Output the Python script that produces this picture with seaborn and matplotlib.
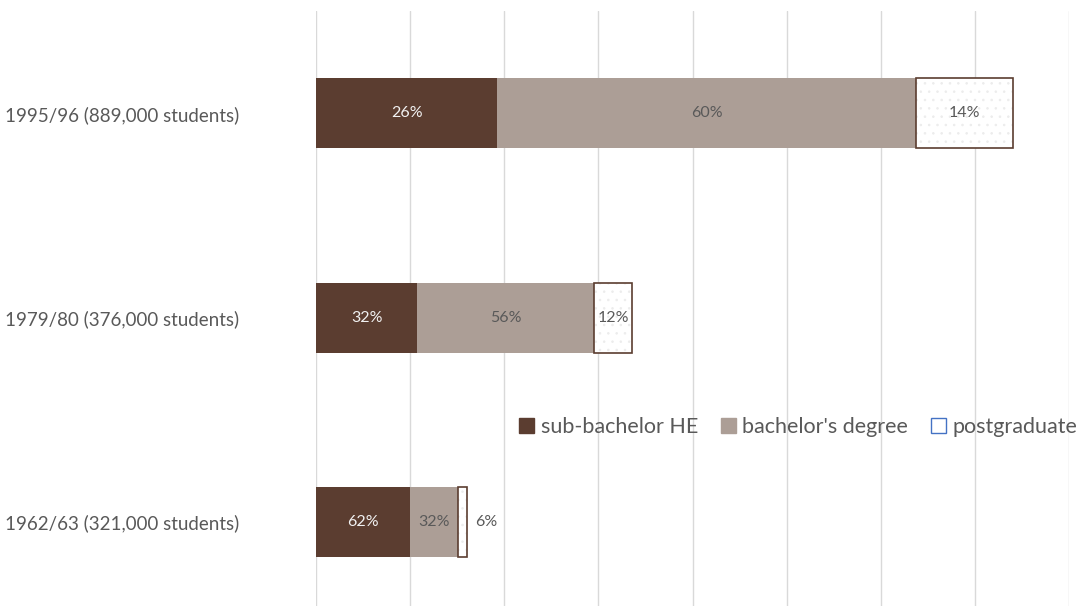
import matplotlib
matplotlib.use("Agg")
import matplotlib.pyplot as plt
from matplotlib.patches import Patch
import numpy as np
import pandas as pd
import seaborn as sns

# Student numbers by level of study
years = ["1995/96 (889,000 students)", "1979/80 (376,000 students)", "1962/63 (321,000 students)"]
sub_bachelor = [26, 32, 62]
bachelor = [60, 56, 32]
postgraduate = [14, 12, 6]
bar_totals = [741, 336, 160.5]   # overall bar length per year
series_names = ["sub-bachelor HE", "bachelor's degree", "postgraduate"]

DARK = "#5b3d30"
TAUPE = "#ac9e96"
TEXT = "#595959"
GRID = "#d9d9d9"

sns.set_theme(style="white")
plt.rcParams["font.family"] = ["Lato", "DejaVu Sans"]
plt.rcParams["hatch.linewidth"] = 0.6

df = pd.DataFrame({
    "year": years,
    "sub": sub_bachelor,
    "bach": bachelor,
    "post": postgraduate,
    "total": bar_totals,
})
df["sub_len"] = df["sub"] / 100 * df["total"]
df["bach_len"] = df["bach"] / 100 * df["total"]
df["post_len"] = df["post"] / 100 * df["total"]
df["cum_bach"] = df["sub_len"] + df["bach_len"]
df["cum_post"] = df["cum_bach"] + df["post_len"]

fig = plt.figure(figsize=(10.83, 6.06), dpi=100)
ax = fig.add_axes([316 / 1083, 0.0, (1069 - 316) / 1083, 1 - 11 / 606])

bar_w = 0.342
# stacked layers, drawn from the longest cumulative length down
sns.barplot(data=df, y="year", x="cum_post", order=years, orient="h", width=bar_w,
            color="white", edgecolor="#ececec", hatch="..", linewidth=0, saturation=1, ax=ax)
sns.barplot(data=df, y="year", x="cum_bach", order=years, orient="h", width=bar_w,
            color=TAUPE, linewidth=0, saturation=1, ax=ax)
sns.barplot(data=df, y="year", x="sub_len", order=years, orient="h", width=bar_w,
            color=DARK, linewidth=0, saturation=1, ax=ax)

ypos = np.arange(len(years))
# outline of the postgraduate segment
ax.barh(ypos, df["post_len"], left=df["cum_bach"], height=bar_w, fill=False,
        edgecolor=DARK, linewidth=1.2, zorder=3)

# segment labels
lab_kw = dict(va="center", fontsize=11.5, zorder=4)
for i, row in df.iterrows():
    ax.text(row["sub_len"] / 2, i, f"{row['sub']}%", ha="center", color="#f2f2f2", **lab_kw)
    ax.text(row["sub_len"] + row["bach_len"] / 2, i, f"{row['bach']}%", ha="center",
            color=TEXT, **lab_kw)
    if row["post_len"] > 30:
        ax.text(row["cum_bach"] + row["post_len"] / 2, i, f"{row['post']}%", ha="center",
                color=TEXT, **lab_kw)
    else:
        ax.text(row["cum_post"] + 9, i, f"{row['post']}%", ha="left", color=TEXT, **lab_kw)

ax.set_xlim(0, 800)
ax.set_ylim(2.41, -0.5)
ax.set_xticks(np.arange(0, 801, 100))
ax.set_xticklabels([])
ax.xaxis.grid(True, color=GRID, linewidth=1)
ax.set_axisbelow(True)
ax.set_xlabel("")
ax.set_ylabel("")
ax.tick_params(axis="y", length=0, pad=55, labelsize=13.5, labelcolor=TEXT)
ax.tick_params(axis="x", length=0)
for s in ax.spines.values():
    s.set_visible(False)

handles = [
    Patch(facecolor=DARK, edgecolor=DARK),
    Patch(facecolor=TAUPE, edgecolor=TAUPE),
    Patch(facecolor="white", edgecolor="#4472c4", linewidth=1),
]
leg = fig.legend(handles, series_names, loc="center left",
                 bbox_to_anchor=(519 / 1083, 1 - 427 / 606), ncol=3, frameon=False,
                 handlelength=0.7, handleheight=0.7, handletextpad=0.3,
                 columnspacing=1.05, borderaxespad=0, borderpad=0, prop={"size": 15.5})
for t in leg.get_texts():
    t.set_color(TEXT)

fig.savefig("out.png", dpi=100, facecolor="white")
